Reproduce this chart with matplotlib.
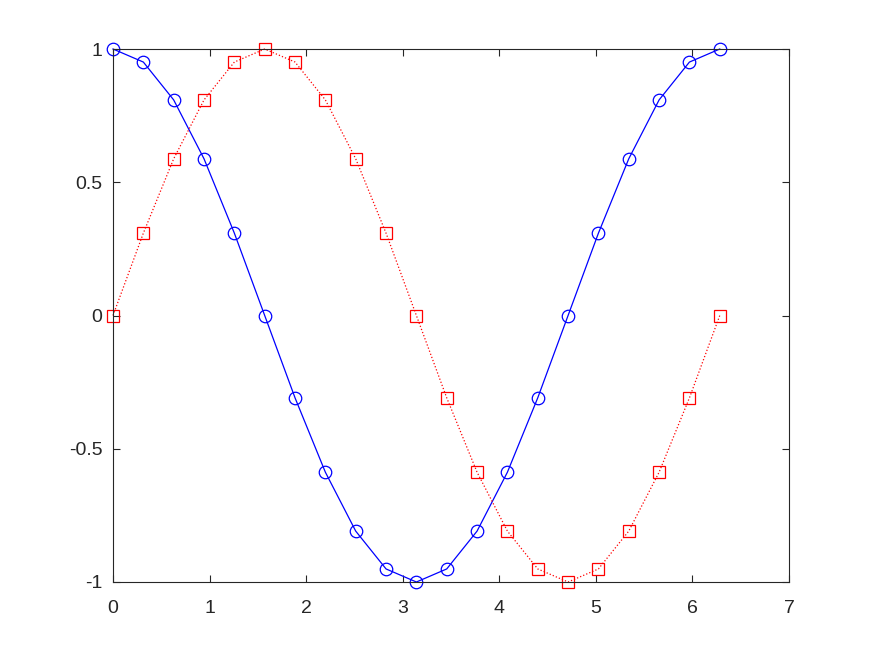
import matplotlib
matplotlib.use("Agg")
import matplotlib.pyplot as plt

x = [0.0, 0.3142, 0.6283, 0.9425, 1.2566, 1.5708, 1.8850, 2.1991, 2.5133, 2.8274,
     3.1416, 3.4558, 3.7699, 4.0841, 4.3982, 4.7124, 5.0265, 5.3407, 5.6549, 5.9690, 6.2832]
cos_vals = [1.0, 0.951, 0.809, 0.588, 0.309, 0.0, -0.309, -0.588, -0.809, -0.951,
            -1.0, -0.951, -0.809, -0.588, -0.309, 0.0, 0.309, 0.588, 0.809, 0.951, 1.0]
sin_vals = [0.0, 0.309, 0.588, 0.809, 0.951, 1.0, 0.951, 0.809, 0.588, 0.309,
            0.0, -0.309, -0.588, -0.809, -0.951, -1.0, -0.951, -0.809, -0.588, -0.309, 0.0]
xticks = [0, 1, 2, 3, 4, 5, 6, 7]
yticks = [-1, -0.5, 0, 0.5, 1]
ytick_labels = ["-1", "-0.5", "0", "0.5", "1"]

plt.rcParams['font.family'] = ['Liberation Sans', 'DejaVu Sans']
fig = plt.figure(figsize=(8.72, 6.54), dpi=100)
ax = fig.add_axes([113/872, 1-582/654, (789-113)/872, (582-49)/654])

ax.plot(x, cos_vals, '-', color='#0000ff', lw=0.9, marker='o', markersize=9,
        markerfacecolor='none', markeredgecolor='#0000ff', markeredgewidth=0.9, clip_on=False)
ax.plot(x, sin_vals, ':', color='#ff0000', lw=0.9, marker='s', markersize=9,
        markerfacecolor='none', markeredgecolor='#ff0000', markeredgewidth=0.9, clip_on=False)

ax.set_xlim(0, 7)
ax.set_ylim(-1, 1)
ax.set_xticks(xticks)
ax.set_yticks(yticks)
ax.set_yticklabels(ytick_labels)
ax.tick_params(direction='in', top=True, right=True, length=5, width=0.8,
               labelsize=14, colors='#262626')
ax.tick_params(axis='x', pad=13)
ax.tick_params(axis='y', pad=7.5)
for s in ax.spines.values():
    s.set_linewidth(0.8)
    s.set_color('#262626')

fig.savefig('out.png', dpi=100)
